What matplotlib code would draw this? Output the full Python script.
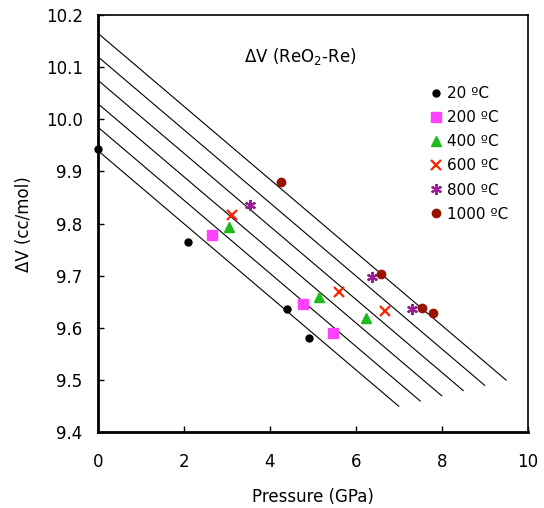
import matplotlib
matplotlib.use('Agg')
import matplotlib.pyplot as plt

# measured points, pressure (GPa) vs dV (cc/mol)
p_20 = [0.0, 2.09, 4.40, 4.90]
v_20 = [9.943, 9.765, 9.636, 9.581]
p_200 = [2.65, 4.78, 5.46]
v_200 = [9.778, 9.646, 9.591]
p_400 = [3.04, 5.15, 6.23]
v_400 = [9.794, 9.659, 9.619]
p_600 = [3.12, 5.62, 6.67]
v_600 = [9.817, 9.669, 9.632]
p_800 = [3.53, 6.37, 7.31]
v_800 = [9.836, 9.697, 9.637]
p_1000 = [4.26, 6.58, 7.55, 7.79]
v_1000 = [9.880, 9.704, 9.639, 9.629]

labels = ['20 \u00baC', '200 \u00baC', '400 \u00baC', '600 \u00baC', '800 \u00baC', '1000 \u00baC']

# fit lines: dV = a + b*P, drawn from 0 to p_end
line_a = [9.94, 9.985, 10.03, 10.075, 10.12, 10.165]
line_b = -0.07
line_end = [7.0, 7.5, 8.0, 8.5, 9.0, 9.5]

plt.rcParams['font.family'] = ['DejaVu Sans']
fig = plt.figure(figsize=(5.44, 5.08), dpi=100)
ax = fig.add_axes([0.180, 0.149, 0.790, 0.8215])

for a, pe in zip(line_a, line_end):
    ax.plot([0, pe], [a, a + line_b*pe], color='black', lw=0.8, zorder=1)

ax.plot(p_20, v_20, 'o', color='black', ms=5, ls='none', label=labels[0], clip_on=False)
ax.plot(p_200, v_200, 's', color='#ff40ff', ms=7, ls='none', label=labels[1])
ax.plot(p_400, v_400, '^', color='#1ebb1e', ms=7, ls='none', label=labels[2])
ax.plot(p_600, v_600, 'x', color='#ff2200', ms=7, mew=1.6, ls='none', label=labels[3])
ax.plot(p_800, v_800, marker=(6, 2, 0), color='#962296', ms=8, mew=1.6, ls='none', label=labels[4])
ax.plot(p_1000, v_1000, 'o', color='#991100', ms=6, ls='none', label=labels[5])

ax.set_xlim(0, 10)
ax.set_ylim(9.4, 10.2)
ax.set_xticks([0, 2, 4, 6, 8, 10])
ax.set_yticks([9.4, 9.5, 9.6, 9.7, 9.8, 9.9, 10.0, 10.1, 10.2])
ax.set_yticklabels(['9.4', '9.5', '9.6', '9.7', '9.8', '9.9', '10.0', '10.1', '10.2'])
ax.tick_params(direction='in', length=4, width=1, labelsize=12)
ax.tick_params(axis='y', pad=11)
ax.tick_params(axis='x', pad=15)
ax.spines['left'].set_linewidth(2)
ax.spines['bottom'].set_linewidth(2)
ax.spines['top'].set_linewidth(1.2)
ax.spines['right'].set_linewidth(1.2)

ax.set_xlabel('Pressure (GPa)', fontsize=12, labelpad=12)
ax.set_ylabel('\u0394V (cc/mol)', fontsize=12, labelpad=9)

ax.text(0.47, 0.90, '\u0394V (ReO$_2$-Re)', transform=ax.transAxes,
        fontsize=12, ha='center', va='center')

ax.legend(loc='upper left', bbox_to_anchor=(0.773, 0.83), frameon=False,
          fontsize=11, handlelength=0.8, handletextpad=0.3, labelspacing=0.6,
          borderaxespad=0, borderpad=0)

fig.savefig('out.png', dpi=100)
